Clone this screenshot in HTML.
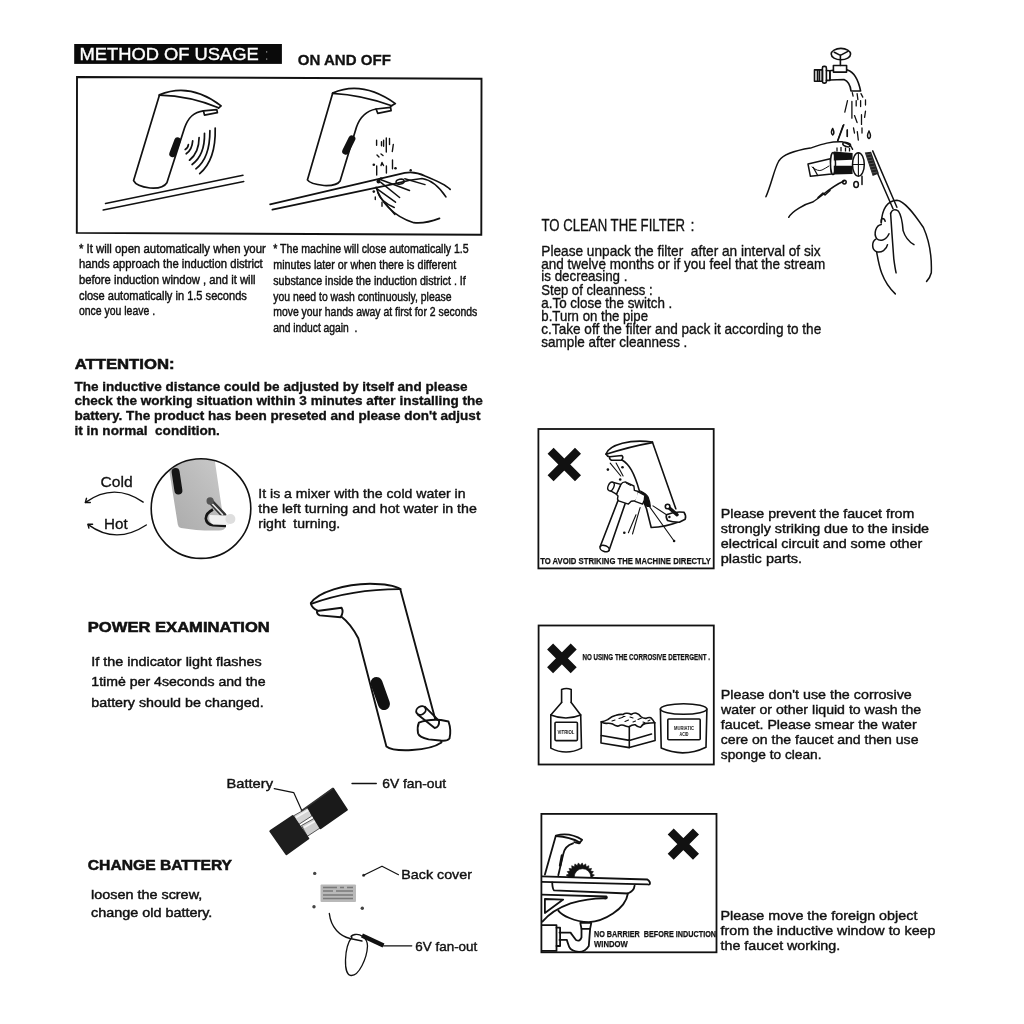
<!DOCTYPE html><html><head><meta charset="utf-8"><style>html,body{margin:0;padding:0;background:#fff;width:1024px;height:1024px;overflow:hidden}svg{display:block;will-change:transform}text{font-family:"Liberation Sans",sans-serif;fill:#111;white-space:pre}</style></head><body>
<svg width="1024" height="1024" viewBox="0 0 1024 1024">

<rect x="74.2" y="44" width="207.7" height="19.9" fill="#0a0a0a"/>
<g fill="none" stroke="#111" stroke-width="1.7" stroke-linecap="round" stroke-linejoin="round">
<!-- box 1 -->
<path d="M77,77 L481.5,78.7 L481.3,234.7 L76.8,232.9 Z" stroke-width="1.9" stroke-linejoin="miter"/>
<!-- faucet 1 -->
<path d="M159.4,94.9 Q190,82 221.1,105.9 L218.5,108.1"/>
<path d="M159.4,95.2 Q190,96 218.5,107.8"/>
<path d="M203.4,110.8 L216.8,109.7 L217.4,112.7 L204.5,115.1 Z"/>
<path d="M203.4,110.8 C193,112 188,118 184.5,128 L166.9,182.8 Q163,189 150,188 Q136,186 133.6,180.6 L159.4,95.2"/>
<path d="M177.6,140.5 L172.5,154" stroke-width="6.5"/>
<path d="M215.2,128 Q216,160 199.7,173.6"/>
<path d="M209.9,130.7 Q210,158 195.9,168.8"/>
<path d="M204.5,133.3 Q205,155 192.1,164.5"/>
<path d="M199.1,137.6 Q199,153 189.5,160.2"/>
<path d="M192.7,140.9 Q192,150 186.2,153.8"/>
<path d="M188.4,144.6 Q188,148 185.2,149.5"/>
<path d="M105.5,203.5 L243,175.3" stroke-width="1.5"/>
<path d="M103.2,210 L243.8,181.4" stroke-width="1.5"/>
<!-- faucet 2 -->
<path d="M332.6,93.1 Q362,80 395.4,103.6 L390.6,106.3"/>
<path d="M332.6,93.4 Q362,95 391.7,105.8"/>
<path d="M376.1,109 L390.6,107.4 L391.1,110.6 L377.7,113.3 Z"/>
<path d="M376.1,109 C366,111 360,117 356.5,127 L340.1,181 Q337,186 324,185.5 Q310,184 307.4,179.9 L332.6,93.4"/>
<path d="M351.9,138.8 L345.7,151.2" stroke-width="7"/>
<path d="M270.1,204.3 L404.8,172.9 Q415,171 425,176 C435,180 445,184 450.2,189.4"/>
<path d="M272.4,209.7 L396.6,183.4 Q410,179.5 422,178.5 C432,180 440,188 445.9,196.9"/>
<path d="M404.8,178.7 L425,184.6" stroke-width="1.5"/>
<path d="M376.1,187.3 C380,200 392,216 413.7,222.7 Q425,224 439.5,218.4"/>
<path d="M379.6,179.3 L409.5,190.5 M380.8,182.3 L399.6,197.5 M376.7,188.7 L395.5,202.2 M384.3,202.2 L394.9,214.5" stroke-width="1.5"/>
<path d="M377.9,192.8 C380,200 386,204 394.3,207.5" stroke-width="1.5"/>
<ellipse cx="400.1" cy="181.7" rx="4.1" ry="2.4" transform="rotate(-12 400.1 181.7)" stroke-width="1.5"/>
<path d="M376.6,140.2 v5 M381.5,141.8 v4 M383.6,140.2 v6 M386.3,138 v14 M389.5,138.5 v6 M393.3,144.5 l-1,7 M377,155 l2,2 M381,154 l2,1.5 M376.7,166 v9 M381,165.5 l1,-3 l1.5,3 M386.4,166 v7 M392.5,160 v8.8 M375.3,197 v2.5 M382,202.2 v4" stroke-width="1.4"/>
</g>
<g fill="#111"><circle cx="373.8" cy="164.7" r="1.3"/><circle cx="395.5" cy="168.2" r="1.3"/><circle cx="410.7" cy="170.3" r="1.2"/><circle cx="373.8" cy="191.6" r="1.3"/><circle cx="378.5" cy="181.5" r="2"/><circle cx="381" cy="178.5" r="1.2"/></g>


<g fill="none" stroke="#111" stroke-width="1.5" stroke-linecap="round" stroke-linejoin="round">
<!-- cold hot arrows -->
<path d="M143.2,502.1 Q114,482 85.5,502.4" stroke-width="1.4"/>
<path d="M90.3,502.5 L85.3,502.6 L86.5,498.3" stroke-width="1.4"/>
<path d="M146.3,525 Q116,545 88.2,524.6" stroke-width="1.4"/>
<path d="M92.6,524.3 L87.9,524.3 L88.9,528.1" stroke-width="1.4"/>
</g>
<!-- circle with faucet -->
<defs><clipPath id="cc1"><circle cx="201" cy="508.6" r="49.5"/></clipPath>
<linearGradient id="gg1" x1="0" y1="1" x2="1" y2="0"><stop offset="0" stop-color="#aaaaaa"/><stop offset="0.6" stop-color="#bdbdbd"/><stop offset="1" stop-color="#cccccc"/></linearGradient></defs>
<g clip-path="url(#cc1)">
<path d="M167,455 L214,455 L222.1,510.6 L226,526 Q225,530.5 219,530.5 Q198,531 181,528 Q178,527 177.8,524.5 L169.5,472.3 Z" fill="url(#gg1)"/>
<path d="M175.6,472 L178.4,490.5" stroke="#151515" stroke-width="8" stroke-linecap="round"/>
<path d="M210.1,500.9 L223.6,515.1" stroke="#333" stroke-width="5.5" stroke-linecap="round"/>
<path d="M211.5,503 L222.5,514.5" stroke="#e6e6e6" stroke-width="1.6" stroke-linecap="round"/>
<circle cx="210.1" cy="500.9" r="3.6" fill="#555"/>
<path d="M213,509.5 Q206,513 205.8,518.5 Q206.5,524.5 213,525.2 L226,526" fill="none" stroke="#151515" stroke-width="2.6"/>
<path d="M209.5,515 L228.5,515.5 Q232,520 228.5,525 L213,524.5 Q208,521 209.5,515 Z" fill="#f0f0f0"/>
<circle cx="230.4" cy="519" r="5" fill="#dedede"/>
</g>
<circle cx="201" cy="508.6" r="49.8" fill="none" stroke="#111" stroke-width="1.6"/>
<g fill="none" stroke="#111" stroke-width="1.9" stroke-linecap="round" stroke-linejoin="round">
<!-- power faucet -->
<path d="M310.8,603.1 C318,592 345,584 370,583.8 Q392,584 400.5,589.1"/>
<path d="M311.2,603.8 C330,597 360,589 400.5,589.1"/>
<path d="M311,604 Q312,608 317.5,610.5"/>
<path d="M317,611 L341.6,607.8 Q344,612 340.7,617.2 L319.6,615.4 Q316.5,614 317,611 Z"/>
<path d="M341.2,616.5 Q351,624 358.3,638.3 L386.4,746.4 Q392,751 412,750 Q432,749 441.5,742.5 L400.5,590"/>
<path d="M376.5,683 L384,704" stroke-width="12"/>
<path d="M418.9,722.7 Q428,719 440.9,720 L448.5,721.5 Q451.5,730 449.5,738.5 Q447,741.5 440,740.5 L428.6,739.4 Q419,737 418,733.2 Q417,727 418.9,722.7 Z" fill="#fff"/>
<path d="M425,706.8 L439.1,720.9 M418,714.7 L434.7,728 M434.7,728 Q439.5,727 439.1,720.9" fill="none"/>
<ellipse cx="421" cy="710.5" rx="5" ry="4" transform="rotate(-30 421 710.5)" fill="#fff"/>
<!-- battery leader lines -->
<path d="M274.2,788.7 L293.7,792.6 L302,811.1" stroke-width="1.2"/>
<path d="M352,783.5 L376.3,783.5" stroke-width="1.3"/>
</g>
<!-- battery -->
<path d="M293.6,815.8 L308.8,807.2 L311.8,816 L298.5,824.6 Z" fill="#d4d4d4" stroke="#444" stroke-width="0.9"/>
<path d="M296,817.5 L309.5,809.5" stroke="#f4f4f4" stroke-width="2"/>
<path d="M301.5,825.5 L316.6,817 L320.5,827.7 L307.3,836.3 Z" fill="#cfcfcf" stroke="#444" stroke-width="0.9"/>
<path d="M304,827.5 L318,819.5" stroke="#f4f4f4" stroke-width="2"/>
<path d="M270.3,831.2 L292.7,816 L308.3,838.5 L286.4,854.1 Z" fill="#1e1e1e" stroke="#1e1e1e" stroke-width="2" stroke-linejoin="round"/>
<path d="M307.9,807.2 L333.2,788.7 L346.9,809.7 L320.5,828.2 Z" fill="#1a1a1a" stroke="#1a1a1a" stroke-width="2" stroke-linejoin="round"/>
<path d="M301,811.1 L333.2,788.2" stroke="#333" stroke-width="1.5"/>
<!-- back cover -->
<g fill="#444"><circle cx="314.7" cy="873.4" r="1.7"/><circle cx="314" cy="906.8" r="1.7"/><circle cx="362.3" cy="908.3" r="1.7"/><circle cx="363.6" cy="875.3" r="1.5"/></g>
<rect x="320.5" y="884.5" width="35.5" height="17.5" fill="#b9b9b9" rx="1"/>
<path d="M323,887.5 h14 M340,887.5 h4 M347,887.5 h6 M323,891 h10 M336,891 h17 M323,895 h30 M323,898.5 h30" stroke="#7a7a7a" stroke-width="1.4"/>
<g fill="none" stroke="#111" stroke-width="1.3" stroke-linecap="round" stroke-linejoin="round">
<path d="M363.6,875.3 L382,866.2 L398.5,874.7" stroke-width="1.2"/>
<path d="M329.3,913.4 C331,928 340,936 350,938.5 L362,941"/>
<path d="M352,937 C344,947 343,975 351,975.5 C359,976 367,958 367.5,946 C367.5,937 359,933.5 355,934.5 C351,935.5 350,936.5 352,937"/>
<path d="M362,935.5 L383.5,945.5" stroke-width="4.5" stroke-linecap="butt"/>
<path d="M383.5,945.8 L411.8,945.8" stroke-width="1.2"/>
</g>
<!-- right column boxes -->
<g fill="none" stroke="#111" stroke-width="1.8">
<rect x="538.4" y="429" width="175.3" height="139.4"/>
<rect x="538.6" y="625.5" width="175.2" height="139"/>
<rect x="541.4" y="813.9" width="175.1" height="138.4"/>
</g>
<g stroke="#111" stroke-width="8.5" stroke-linecap="butt">
<path d="M550.6,450.8 L578,478.2 M578,450.8 L550.6,478.2"/>
<path d="M550.1,646.6 L573.7,670.2 M573.7,646.6 L550.1,670.2"/>
<path d="M670.7,831.4 L696,856.7 M696,831.4 L670.7,856.7"/>
</g>
<!-- box A faucet and hammer -->
<g fill="none" stroke="#111" stroke-width="1.6" stroke-linecap="round" stroke-linejoin="round">
<path d="M606.1,453.7 C610,444.5 630,439 652.4,442"/>
<path d="M606.1,454.3 Q630,446.5 652.4,442.6"/>
<path d="M606.1,454.3 Q607,456.5 609.6,456.7 L621.9,455.5 Q624,457.5 621.4,460.2 L611.4,460.2 Q609,459 609.6,456.7"/>
<path d="M622,460 C629,464 634,472 639.5,491.2 L646.5,508.8 L651.2,527.5 Q665,527 679.3,521.7"/>
<path d="M652.4,442 L675.8,508.8"/>
<path d="M640.5,491 Q646.5,494 648.1,497 Q650,502 650.3,506.3 L647,506.3 Q644.5,504 644.3,502.4 Q644,496 640.5,491 Z" fill="#111" stroke-width="1.2"/>
<path d="M666.5,514.7 Q675,511 684,512.3 Q686.5,516 685.2,519.3 L679.3,522.3 Q672,522 667.6,520.5 Q665.5,517 666.5,514.7 Z" fill="#fff"/>
<path d="M667.6,506.5 L677,514.7" stroke-width="3.5"/>
<circle cx="667.6" cy="506.5" r="2.3" fill="#fff"/>
<path d="M647.7,504.1 L674.1,541 M653,505.9 L666.5,514.7" stroke-width="1.1"/>
<path d="M618,500.5 L600.3,546.3 M625.2,503.5 L609,550.4"/>
<ellipse cx="604.6" cy="548.5" rx="4.8" ry="3" transform="rotate(20 604.6 548.5)" fill="#fff"/>
<path d="M620.8,484.4 Q622.5,482 625.2,481.9 L633.9,486 L634.4,490.4 L638.3,491.5 L638.3,494.8 Q637.5,499 635.5,500.8 L631.2,501.3 L628.4,504.1 L618.6,500.8 L617.5,499.1 L618,495.9 L616.4,494.2 Z" fill="#fff" stroke-width="1.4"/>
<path d="M638.3,492 L644.8,495.3 Q645,500 642.6,504.1 L635,501.3" fill="#fff" stroke-width="1.4"/>
<path d="M612.6,482.2 L620.8,484.4 L616.4,494.2 L609.8,490.4" fill="#fff" stroke-width="1.4"/>
<ellipse cx="611" cy="486.5" rx="2.8" ry="4.6" transform="rotate(25 611 486.5)" fill="#fff" stroke-width="1.4"/>
<path d="M626,483 L630.5,485.5" stroke-width="1"/>

<path d="M610.2,463.1 L620.8,476 M616.1,463.1 L623.1,476 M640.1,507.6 L632.5,534 M636,514.7 L628.4,532.8" stroke-width="1.1"/>
</g>
<g fill="#111"><circle cx="607.9" cy="469.6" r="1.3"/><circle cx="622.5" cy="467.2" r="1.3"/><circle cx="620.2" cy="479.5" r="1.3"/><circle cx="624.3" cy="532.8" r="1.3"/><circle cx="674.1" cy="541" r="1.3"/><circle cx="669.4" cy="517" r="1.2"/></g>
<!-- box B bottle sponge can -->
<g fill="none" stroke="#111" stroke-width="1.6" stroke-linecap="round" stroke-linejoin="round">
<path d="M561.6,702.4 L561.6,689.5 Q566.4,687.5 571.2,689.5 L571.2,702.4"/>
<path d="M561.6,702.4 L550.8,714.9 L550.8,748.1 Q566,756 581.5,748.1 L580.7,714.9 L571.2,702.4"/>
<path d="M550.8,714.9 Q566,721 580.7,714.9"/>
<rect x="555" y="722.3" width="22.4" height="18.3" rx="1"/>
<path d="M601.3,722.2 L601,743 L629.3,747.6 L655.1,740.4 L654.7,722.8"/>
<path d="M629.3,726.6 L629.3,747.6 M601.3,735.5 L629.3,740.4 L651.5,734"/>
<path d="M601.3,721.8 Q604,721.5 607.7,719.6 Q612,716 616,715.2 Q620,714 623,714.5 Q625,713 626.7,713.2 Q629,713 631.2,714.5 Q634,712.5 636.3,713.2 Q639,714 640.7,716.5 Q643,718.5 645.8,718.4 Q649,717 650.9,717.8 Q653,719.5 654.7,722.8"/>
<path d="M601.3,721.8 Q603.5,723.5 606.4,723.4 Q610,723 612.8,724.1 Q616,726.5 618.5,726 Q621,724.5 623.6,725.3 Q627,727 629.3,726.6 Q632,724.5 635,724.7 Q638,727.5 640.7,727.2 Q643,723.5 645.8,723.4 Q651,723 654.7,722.8"/>
<path d="M612,721 l3,-1 M619,718.5 l4,-1.2 M625,721.5 l3.5,-1.5 M630,717 l3,1 M633,722 l2.5,-1 M638,719.5 l3.5,-1.5 M643,722 l2,0.8 M648,721 l2,-1 M623,716.5 l2,0" stroke-width="1.1"/>
<ellipse cx="683.6" cy="709" rx="23.2" ry="5.3"/>
<path d="M660.4,709 L661.2,748.1 Q683.6,758 706,747.2 L706.9,709"/>
<rect x="667.8" y="719" width="32.4" height="20.8" rx="1"/>
</g>
<g font-family="Liberation Sans" font-weight="700" fill="#222" text-anchor="middle">
<text x="566" y="733.5" font-size="5" textLength="17" lengthAdjust="spacingAndGlyphs">VITRIOL</text>
<text x="684" y="729.5" font-size="4.5" textLength="20" lengthAdjust="spacingAndGlyphs">MURIATIC</text>
<text x="684" y="735.5" font-size="4.5" textLength="9" lengthAdjust="spacingAndGlyphs">ACID</text>
</g>
<!-- box C sink -->
<g fill="none" stroke="#111" stroke-width="1.8" stroke-linecap="round" stroke-linejoin="round">
<path d="M544.9,874.6 L555.9,835.5 Q570,832 582.1,839.8 L579.1,843.4 L574.2,842.2"/>
<path d="M556,836 Q570,837 580,842.5"/>
<path d="M573,843.4 C566,845.5 564,850 563.2,854.4 L558.3,875.2"/>
<path d="M562,855.6 L560.1,865.4" stroke-width="2.5"/>
<path d="M541.8,876.4 L647.4,879.5 Q650.5,881.5 649.9,884 Q649,885 647.4,884.3 L541.8,881.9"/>
<path d="M552.2,882.5 Q552.5,889 554,890.4 L627.9,893.5 Q634,891 634.6,885.6"/>
<path d="M627.9,893.5 C625.5,909.4 603.5,921.6 588.8,922.2 C574.2,921.6 562,915.5 558.3,910.6"/>
<path d="M541.8,894.7 L606.5,896.5 Q607.5,898 606,898.5 Q590,898 570.5,903.3 Q552,910 542.4,921.6"/>
<path d="M544.9,899 L563.2,899.6 L544.9,913 Z"/>
<path d="M580.3,922.8 L591.3,922.8 L590.1,928.9 L581.5,928.9 Z"/>
<path d="M581.5,928.9 L581.5,937.4 Q580,942 576,940 Q572,935 570.5,932.6 L559.5,932.6"/>
<path d="M590.1,928.9 L588.8,946 Q585,952 579,952 Q571,951 569.3,947.2 Q567,941 566.9,939.9 L559.5,939.9"/>
<path d="M541.8,925.2 L556.5,925.2 L556.5,950.9 L541.8,950.9"/>
<path d="M556.5,927.7 L560.1,927.7 L560.1,946 L556.5,946"/>
</g>
<path d="M568.5,877.0 L566.2,875.1 L568.9,873.9 L567.2,871.6 L570.1,871.1 L569.0,868.4 L572.0,868.7 L571.7,865.7 L574.4,866.8 L574.9,863.9 L577.2,865.6 L578.4,862.9 L580.3,865.2 L582.2,862.9 L583.4,865.6 L585.7,863.9 L586.2,866.8 L588.9,865.7 L588.6,868.7 L591.6,868.4 L590.5,871.1 L593.4,871.6 L591.7,873.9 L594.4,875.1 L592.1,877.0 L590.8,877 A8.3,8.3 0 0 0 574.2,877 Z" fill="#111" stroke="#111" stroke-width="0.6" stroke-linejoin="round"/>
<!-- filter illustration -->
<g fill="none" stroke="#111" stroke-width="1.6" stroke-linecap="round" stroke-linejoin="round">
<ellipse cx="840.9" cy="54.1" rx="9.7" ry="5.7"/>
<path d="M834.3,52.3 L840.4,55.4 L847.9,51.4 M840.4,55.4 L840.4,65.5"/>
<rect x="833.4" y="65.5" width="13.2" height="6.6"/>
<path d="M847.5,69.9 Q857,73 860.6,91 L851,91 Q850,82 844,79.5 L829.9,80 L829.9,70.8 L833.4,70.3"/>
<rect x="822.4" y="66.4" width="4" height="16.7" rx="1.5"/>
<rect x="814.5" y="69.9" width="7.9" height="11.4"/>
<path d="M826.4,70.5 L829.9,70.8 L829.9,80.4 L826.4,80.4"/>
</g>
<path d="M817.5,70 v11.3 M819.5,70 v11.3" stroke="#111" stroke-width="1.6"/>
<path d="M852.3,92.7 l0.8,3.5 M857.1,93.6 l0.8,6 M861,93.6 l1.8,3.5 M847.5,100.6 l-2.7,11.5 M851.9,101.5 v16.7 M856.2,100.6 v5.3 M860.6,100.6 v6 M865.5,99.8 v5.2 M854.5,115.6 l2.6,7 M861.5,114.7 v9.7 M865.5,111.2 l-0.9,6.1 M843.1,125.3 l-5.5,15.5 M847.3,130 v6.4 M853.5,128 l1,5 M857.3,131.7 l1,8.3 M862,128 v5" stroke="#111" stroke-width="1.3" stroke-linecap="round"/>
<g fill="none" stroke="#111" stroke-width="1.5" stroke-linecap="round" stroke-linejoin="round">
<path d="M765.9,196.8 C771.7,183.3 774.1,169.2 778.8,161 C783.4,154 795.2,150.5 810.4,148.1 C820.9,144.6 830.3,141.1 842,141.7 Q851,144 852.6,149.3"/>
<ellipse cx="846.7" cy="144.6" rx="4" ry="2" transform="rotate(15 846.7 144.6)"/>
<path d="M788.7,217.3 C792,211 805,204 812.7,202 C820,198 830,187 844,181"/>
<path d="M818,197.5 L823,193 L825,195 L830,190.5"/>
<path d="M808,164 L830.3,158.7 L831.5,173.9 L810.4,176.3 Z" fill="#fff"/>
<path d="M812,167 Q818,172 822,170 Q826,168 829,166" stroke-width="1"/>
<ellipse cx="858.4" cy="164.5" rx="5.9" ry="11.7" fill="#fff"/>
<path d="M853,164.5 h11 M858.4,153.5 v22" stroke-width="1.1"/>
<ellipse cx="833" cy="163.4" rx="2.5" ry="11" fill="#fff"/>
<circle cx="844.4" cy="182.1" r="1.8"/>
<ellipse cx="856.1" cy="184.5" rx="2.3" ry="3" />
<path d="M862,176.3 v8.2 M843.8,124.7 L837.9,140.5 M847.3,130 v6.4"/>
<path d="M832.7,128.5 Q830,133 832.7,135 Q835,133 832.7,128.5 M869,131 Q866,137 869,138.5 Q872,137 869,131"/>
<path d="M872.7,150.9 L896.9,207.2 M868.8,153.3 L893,208.8"/>
<path d="M881.3,222.8 C882,210 886,201 896.9,200.2 C905,201 915,215 923.4,227.5 C929,240 932,255 931.3,272.8 Q930,278 926.6,281.4"/>
<path d="M890.6,213.4 Q893,207.5 898.4,211.1 Q902,216 903.1,230.6 Q906,240 914,244.7"/>
<path d="M890.6,213.4 Q892,235 893.8,258.8 Q895,268 896.1,272.8"/>
<path d="M881.3,224.4 C875.8,225.2 873.4,233.8 876.6,238.4 C879.5,241.5 886,241 889,233.8"/>
<path d="M875.8,239.2 C871.9,241.6 871.1,249.4 876.6,251.7 C881.3,253.3 886.7,249.4 887.5,244.7"/>
<path d="M881.3,222.8 C880.5,218.1 883.6,216.6 885.2,221.3"/>
<path d="M876.6,251.7 C878.9,265 881.3,280.6 895.3,293.9"/>
</g>
<path d="M833.8,151.6 L852.6,153 L852.6,159.8 L833.8,160.4 Z M833.8,165.7 L852.6,165.7 L852.6,173.9 L833.8,174.5 Z" fill="#111"/>
<path d="M837,147.5 v4 M841,147 v4.5 M845.5,147.5 v4 M849.5,148 v3.5 M813,167 L818,176" stroke="#111" stroke-width="1.3"/>
<path d="M864.8,152.5 L871.1,151.7 L878.9,173.6 L872.7,175.9 Z" fill="#222"/>
<path d="M866,155 l5,-1 M867,158 l5,-1 M868,161 l5,-1 M869,164 l5,-1 M870,167 l5,-1 M871,170 l5,-1 M872,173 l5,-1" stroke="#666" stroke-width="0.7"/>

<g>
<text x="79.40" y="60.10" font-size="16.5" font-weight="400" textLength="179.47" lengthAdjust="spacingAndGlyphs"  style="fill:#fff" stroke="#fff" stroke-width="0.35">METHOD OF USAGE</text>
<text x="265.50" y="60.10" font-size="16.5" font-weight="400" textLength="2.48" lengthAdjust="spacingAndGlyphs" style="fill:#999">:</text>
<text x="297.80" y="64.70" font-size="14" font-weight="700" textLength="93.07" lengthAdjust="spacingAndGlyphs"  stroke="#111" stroke-width="0.3">ON AND OFF</text>
<text x="78.90" y="252.50" font-size="12.8" font-weight="400" textLength="186.96" lengthAdjust="spacingAndGlyphs"  stroke="#111" stroke-width="0.45">* It will open automatically when your</text>
<text x="78.90" y="268.20" font-size="12.8" font-weight="400" textLength="183.86" lengthAdjust="spacingAndGlyphs"  stroke="#111" stroke-width="0.45">hands approach the induction district</text>
<text x="78.90" y="283.90" font-size="12.8" font-weight="400" textLength="176.75" lengthAdjust="spacingAndGlyphs"  stroke="#111" stroke-width="0.45">before induction window , and it will</text>
<text x="78.90" y="299.70" font-size="12.8" font-weight="400" textLength="167.94" lengthAdjust="spacingAndGlyphs"  stroke="#111" stroke-width="0.45">close automatically in 1.5 seconds</text>
<text x="78.90" y="315.40" font-size="12.8" font-weight="400" textLength="76.22" lengthAdjust="spacingAndGlyphs"  stroke="#111" stroke-width="0.45">once you leave .</text>
<text x="273.20" y="253.30" font-size="12.8" font-weight="400" textLength="195.49" lengthAdjust="spacingAndGlyphs"  stroke="#111" stroke-width="0.45">* The machine will close automatically 1.5</text>
<text x="273.20" y="269.20" font-size="12.8" font-weight="400" textLength="182.99" lengthAdjust="spacingAndGlyphs"  stroke="#111" stroke-width="0.45">minutes later or when there is different</text>
<text x="273.20" y="284.80" font-size="12.8" font-weight="400" textLength="192.62" lengthAdjust="spacingAndGlyphs"  stroke="#111" stroke-width="0.45">substance inside the induction district . If</text>
<text x="273.20" y="300.50" font-size="12.8" font-weight="400" textLength="178.33" lengthAdjust="spacingAndGlyphs"  stroke="#111" stroke-width="0.45">you need to wash continuously, please</text>
<text x="273.20" y="316.40" font-size="12.8" font-weight="400" textLength="204.14" lengthAdjust="spacingAndGlyphs"  stroke="#111" stroke-width="0.45">move your hands away at first for 2 seconds</text>
<text x="273.20" y="331.70" font-size="12.8" font-weight="400" textLength="84.22" lengthAdjust="spacingAndGlyphs"  stroke="#111" stroke-width="0.45">and induct again  .</text>
<text x="74.70" y="369.30" font-size="15" font-weight="700" textLength="99.91" lengthAdjust="spacingAndGlyphs"  stroke="#111" stroke-width="0.55">ATTENTION:</text>
<text x="74.50" y="391.00" font-size="13.5" font-weight="700" textLength="393.00" lengthAdjust="spacingAndGlyphs"  stroke="#111" stroke-width="0.35">The inductive distance could be adjusted by itself and please</text>
<text x="74.50" y="405.40" font-size="13.5" font-weight="700" textLength="408.38" lengthAdjust="spacingAndGlyphs"  stroke="#111" stroke-width="0.35">check the working situation within 3 minutes after installing the</text>
<text x="74.50" y="420.10" font-size="13.5" font-weight="700" textLength="405.90" lengthAdjust="spacingAndGlyphs"  stroke="#111" stroke-width="0.35">battery. The product has been preseted and please don&#x27;t adjust</text>
<text x="74.50" y="435.00" font-size="13.5" font-weight="700" textLength="145.31" lengthAdjust="spacingAndGlyphs"  stroke="#111" stroke-width="0.35">it in normal  condition.</text>
<text x="100.50" y="487.30" font-size="15" font-weight="400" textLength="32.15" lengthAdjust="spacingAndGlyphs"  stroke="#111" stroke-width="0.3">Cold</text>
<text x="104.00" y="529.10" font-size="15" font-weight="400" textLength="23.64" lengthAdjust="spacingAndGlyphs"  stroke="#111" stroke-width="0.3">Hot</text>
<text x="258.30" y="497.90" font-size="13.6" font-weight="400" textLength="207.25" lengthAdjust="spacingAndGlyphs"  stroke="#111" stroke-width="0.4">It is a mixer with the cold water in</text>
<text x="258.30" y="512.80" font-size="13.6" font-weight="400" textLength="218.57" lengthAdjust="spacingAndGlyphs"  stroke="#111" stroke-width="0.4">the left turning and hot water in the</text>
<text x="258.30" y="527.70" font-size="13.6" font-weight="400" textLength="81.84" lengthAdjust="spacingAndGlyphs"  stroke="#111" stroke-width="0.4">right  turning.</text>
<text x="87.80" y="631.60" font-size="14.8" font-weight="700" textLength="182.03" lengthAdjust="spacingAndGlyphs"  stroke="#111" stroke-width="0.55">POWER EXAMINATION</text>
<text x="91.30" y="665.70" font-size="13.6" font-weight="400" textLength="170.29" lengthAdjust="spacingAndGlyphs"  stroke="#111" stroke-width="0.45">If the indicator light flashes</text>
<text x="91.30" y="686.40" font-size="13.6" font-weight="400" textLength="174.20" lengthAdjust="spacingAndGlyphs"  stroke="#111" stroke-width="0.45">1timė per 4seconds and the</text>
<text x="91.30" y="707.30" font-size="13.6" font-weight="400" textLength="172.35" lengthAdjust="spacingAndGlyphs"  stroke="#111" stroke-width="0.45">battery should be changed.</text>
<text x="226.50" y="788.40" font-size="13" font-weight="400" textLength="46.47" lengthAdjust="spacingAndGlyphs"  stroke="#111" stroke-width="0.4">Battery</text>
<text x="382.20" y="788.40" font-size="13" font-weight="400" textLength="63.92" lengthAdjust="spacingAndGlyphs"  stroke="#111" stroke-width="0.4">6V fan-out</text>
<text x="87.80" y="870.10" font-size="15.2" font-weight="700" textLength="144.24" lengthAdjust="spacingAndGlyphs"  stroke="#111" stroke-width="0.55">CHANGE BATTERY</text>
<text x="91.00" y="899.40" font-size="12.9" font-weight="400" textLength="111.24" lengthAdjust="spacingAndGlyphs"  stroke="#111" stroke-width="0.45">loosen the screw,</text>
<text x="91.00" y="917.30" font-size="12.9" font-weight="400" textLength="121.31" lengthAdjust="spacingAndGlyphs"  stroke="#111" stroke-width="0.45">change old battery.</text>
<text x="401.30" y="879.20" font-size="13" font-weight="400" textLength="70.64" lengthAdjust="spacingAndGlyphs"  stroke="#111" stroke-width="0.4">Back cover</text>
<text x="415.30" y="951.20" font-size="13" font-weight="400" textLength="62.02" lengthAdjust="spacingAndGlyphs"  stroke="#111" stroke-width="0.4">6V fan-out</text>
<text x="541.50" y="230.70" font-size="16" font-weight="400" textLength="143.51" lengthAdjust="spacingAndGlyphs"  stroke="#111" stroke-width="0.3">TO CLEAN THE FILTER</text>
<text x="690.50" y="230.70" font-size="16" font-weight="400" textLength="3.97" lengthAdjust="spacingAndGlyphs"  stroke="#111" stroke-width="0.3">:</text>
<text x="541.30" y="256.30" font-size="14.8" font-weight="400" textLength="279.35" lengthAdjust="spacingAndGlyphs"  stroke="#111" stroke-width="0.35">Please unpack the filter  after an interval of six</text>
<text x="541.30" y="269.30" font-size="14.8" font-weight="400" textLength="283.89" lengthAdjust="spacingAndGlyphs"  stroke="#111" stroke-width="0.35">and twelve months or if you feel that the stream</text>
<text x="541.30" y="281.40" font-size="14.8" font-weight="400" textLength="86.16" lengthAdjust="spacingAndGlyphs"  stroke="#111" stroke-width="0.35">is decreasing .</text>
<text x="541.30" y="295.00" font-size="14.8" font-weight="400" textLength="111.36" lengthAdjust="spacingAndGlyphs"  stroke="#111" stroke-width="0.35">Step of cleanness :</text>
<text x="541.30" y="307.80" font-size="14.8" font-weight="400" textLength="131.02" lengthAdjust="spacingAndGlyphs"  stroke="#111" stroke-width="0.35">a.To close the switch .</text>
<text x="541.30" y="320.50" font-size="14.8" font-weight="400" textLength="106.69" lengthAdjust="spacingAndGlyphs"  stroke="#111" stroke-width="0.35">b.Turn on the pipe</text>
<text x="541.30" y="333.50" font-size="14.8" font-weight="400" textLength="279.94" lengthAdjust="spacingAndGlyphs"  stroke="#111" stroke-width="0.35">c.Take off the filter and pack it according to the</text>
<text x="541.30" y="346.50" font-size="14.8" font-weight="400" textLength="146.07" lengthAdjust="spacingAndGlyphs"  stroke="#111" stroke-width="0.35">sample after cleanness .</text>
<text x="720.80" y="518.40" font-size="13.2" font-weight="400" textLength="193.57" lengthAdjust="spacingAndGlyphs"  stroke="#111" stroke-width="0.4">Please prevent the faucet from</text>
<text x="720.80" y="533.20" font-size="13.2" font-weight="400" textLength="208.24" lengthAdjust="spacingAndGlyphs"  stroke="#111" stroke-width="0.4">strongly striking due to the inside</text>
<text x="720.80" y="548.30" font-size="13.2" font-weight="400" textLength="201.51" lengthAdjust="spacingAndGlyphs"  stroke="#111" stroke-width="0.4">electrical circuit and some other</text>
<text x="720.80" y="562.90" font-size="13.2" font-weight="400" textLength="81.34" lengthAdjust="spacingAndGlyphs"  stroke="#111" stroke-width="0.4">plastic parts.</text>
<text x="720.80" y="699.10" font-size="13.2" font-weight="400" textLength="190.96" lengthAdjust="spacingAndGlyphs"  stroke="#111" stroke-width="0.4">Please don&#x27;t use the corrosive</text>
<text x="720.94" y="713.70" font-size="13.2" font-weight="400" textLength="200.21" lengthAdjust="spacingAndGlyphs"  stroke="#111" stroke-width="0.4">water or other liquid to wash the</text>
<text x="720.80" y="729.00" font-size="13.2" font-weight="400" textLength="195.85" lengthAdjust="spacingAndGlyphs"  stroke="#111" stroke-width="0.4">faucet. Please smear the water</text>
<text x="720.80" y="743.60" font-size="13.2" font-weight="400" textLength="197.67" lengthAdjust="spacingAndGlyphs"  stroke="#111" stroke-width="0.4">cere on the faucet and then use</text>
<text x="720.80" y="758.60" font-size="13.2" font-weight="400" textLength="100.78" lengthAdjust="spacingAndGlyphs"  stroke="#111" stroke-width="0.4">sponge to clean.</text>
<text x="720.50" y="919.90" font-size="13.2" font-weight="400" textLength="196.89" lengthAdjust="spacingAndGlyphs"  stroke="#111" stroke-width="0.4">Please move the foreign object</text>
<text x="720.50" y="935.20" font-size="13.2" font-weight="400" textLength="214.94" lengthAdjust="spacingAndGlyphs"  stroke="#111" stroke-width="0.4">from the inductive window to keep</text>
<text x="720.50" y="950.40" font-size="13.2" font-weight="400" textLength="119.64" lengthAdjust="spacingAndGlyphs"  stroke="#111" stroke-width="0.4">the faucet working.</text>
<text x="540.20" y="564.40" font-size="9.8" font-weight="700" textLength="170.78" lengthAdjust="spacingAndGlyphs"  stroke="#111" stroke-width="0.25">TO AVOID STRIKING THE MACHINE DIRECTLY</text>
<text x="582.40" y="659.80" font-size="8.2" font-weight="700" textLength="127.61" lengthAdjust="spacingAndGlyphs"  stroke="#111" stroke-width="0.25">NO USING THE CORROSIVE DETERGENT .</text>
<text x="594.00" y="936.80" font-size="9.2" font-weight="700" textLength="121.99" lengthAdjust="spacingAndGlyphs"  stroke="#111" stroke-width="0.25">NO BARRIER  BEFORE INDUCTION</text>
<text x="594.00" y="947.20" font-size="9.2" font-weight="700" textLength="33.68" lengthAdjust="spacingAndGlyphs"  stroke="#111" stroke-width="0.25">WINDOW</text>
</g>

</svg></body></html>
